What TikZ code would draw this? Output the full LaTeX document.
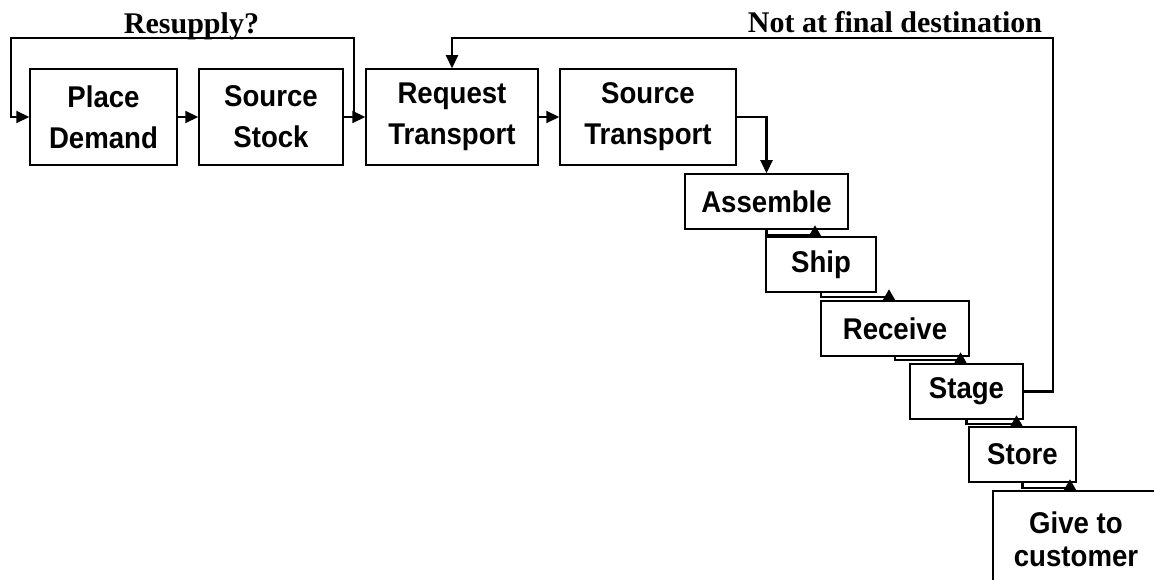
\documentclass[tikz,border=0pt]{standalone}
\usepackage{fontspec}
\usetikzlibrary{arrows.meta,calc}
\newfontfamily\boxfont{Liberation Sans Bold}[FakeStretch=0.92]
\newfontfamily\notefont{Liberation Serif Bold}
\begin{document}
\begin{tikzpicture}[x=1pt,y=-1pt,
  stepbox/.style={draw=black,line width=1.5pt,fill=white,inner sep=0pt,
    align=center,font=\boxfont\fontsize{30}{41}\selectfont},
  conn/.style={draw=black,line width=2.2pt},
  arr/.style={conn,-{Triangle[length=13pt,width=12pt]}},
  hop/.style={conn,-{Triangle[reversed,length=11pt,width=12pt]}},
  note/.style={font=\notefont\fontsize{30}{34}\selectfont,anchor=base,inner sep=0pt}]
\fill[white] (0,0) rectangle (1154,580);
\clip (0,0) rectangle (1154,580);

% top row of process steps
\node[stepbox,minimum width=147pt,minimum height=96pt] (pd) at (103.5,117) {Place\\Demand};
\node[stepbox,minimum width=144pt,minimum height=96pt] (ss) at (271,117) {Source\\Stock};
\node[stepbox,minimum width=172pt,minimum height=96pt] (rt) at (452,117) {Request\\Transport};
\node[stepbox,minimum width=176pt,minimum height=96pt] (st) at (648,117) {Source\\Transport};

% descending staircase of steps
\node[stepbox,minimum width=163pt,minimum height=55pt] (as) at (766.5,201.5) {Assemble};
\node[stepbox,minimum width=110pt,minimum height=55pt] (sh) at (821,264.5) {Ship};
\node[stepbox,minimum width=148pt,minimum height=55pt] (rc) at (895,328.5) {Receive};
\node[stepbox,minimum width=113pt,minimum height=55pt] (sg) at (966.5,391.5) {Stage};
\node[stepbox,minimum width=107pt,minimum height=55pt] (so) at (1022.5,454.5) {Store};
\node[stepbox,minimum width=166pt,minimum height=96pt,
  font=\boxfont\fontsize{30}{33}\selectfont] (gc) at (1076,539) {Give to\\customer};

% straight links along the top row
\draw[arr] (pd) -- (ss);
\draw[arr] (ss) -- (rt);
\draw[arr] (rt) -- (st);
\draw[arr] (st.east) -| (as.north);

% resupply loop back to the first step
\coordinate (split) at (354,117);
\coordinate (rsl) at (11,38);
\draw[arr] (split) |- (rsl) |- (pd.west);
\node[note] (rsp) at (191.5,34) {Resupply?};

% loop from Stage back to Request Transport
\coordinate (nfd) at (1053,38);
\draw[arr] (sg.east) -| (nfd) -| (rt.north);
\node[note] (nfl) at (895,33) {Not at final destination};

% short hops down the staircase
\draw[hop] (as.south) -- ++(0,5) -| ([xshift=-6pt]sh.north);
\draw[hop] (sh.south) -- ++(0,4) -| ([xshift=-6pt]rc.north);
\draw[hop] (rc.south) -- ++(0,3) -| ([xshift=-6pt]sg.north);
\draw[hop] (sg.south) -- ++(0,4) -| ([xshift=-6pt]so.north);
\draw[hop] (so.south) -- ++(0,5) -| ([xshift=-6pt]gc.north);
\end{tikzpicture}
\end{document}
